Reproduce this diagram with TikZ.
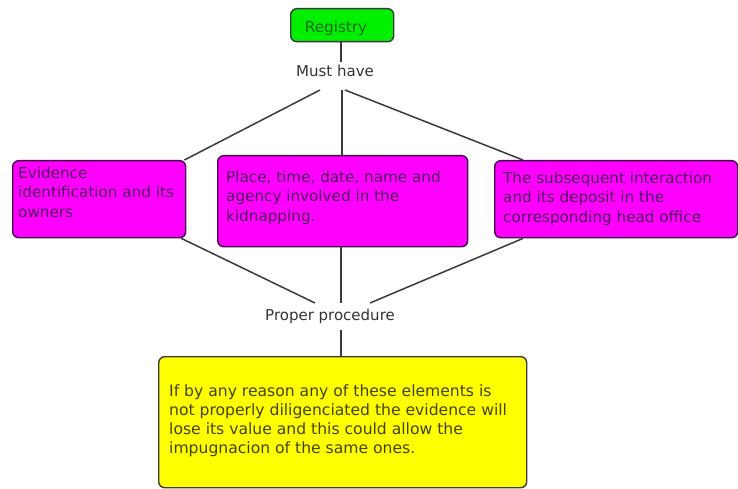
\documentclass[tikz,border=0pt]{standalone}
\usepackage{fontspec}
\setmainfont{DejaVu Sans}
\usetikzlibrary{calc}
\definecolor{linegray}{HTML}{3A3A3A}
\definecolor{boxgreen}{HTML}{00F000}
\definecolor{boxmagenta}{HTML}{FF00FF}
\definecolor{boxyellow}{HTML}{FFFF00}
\definecolor{magtextcol}{HTML}{4E0E5A}
\definecolor{yeltextcol}{HTML}{42420C}
\definecolor{regtextcol}{HTML}{1A661A}
\definecolor{labelcol}{HTML}{333333}
\tikzset{
  box/.style={draw=linegray, line width=1.4pt, rounded corners=6pt, anchor=north west, inner sep=0pt},
  greenbox/.style={box, fill=boxgreen},
  magbox/.style={box, fill=boxmagenta, draw=magtextcol!80!black},
  yelbox/.style={box, fill=boxyellow},
  bodytext/.style={anchor=north west, inner sep=0pt, align=left, font=\fontsize{15.2}{19.7}\selectfont},
  magtext/.style={bodytext, text=magtextcol},
  yeltext/.style={bodytext, text=yeltextcol, font=\fontsize{15.6}{19.1}\selectfont},
  lbl/.style={anchor=base, inner sep=0pt, text=labelcol, font=\fontsize{15}{17}\selectfont},
  conn/.style={draw=linegray, line width=1.5pt}
}
\begin{document}
\begin{tikzpicture}[x=1pt, y=-1pt]
\useasboundingbox (0,0) rectangle (738,489);

% boxes
\node[greenbox, minimum width=103pt, minimum height=33pt] (reg) at (290,8) {};
\node[anchor=base, inner sep=0pt, text=regtextcol, font=\fontsize{15.2}{17}\selectfont] (regt) at (336,33) {Registry};

\node[magbox, minimum width=173pt, minimum height=77pt] (lbox) at (12,160) {};
\node[magbox, minimum width=250pt, minimum height=91pt] (mbox) at (217,155) {};
\node[magbox, minimum width=243pt, minimum height=77pt] (rbox) at (494,160) {};
\node[yelbox, minimum width=368pt, minimum height=131pt] (ybox) at (158,356) {};

% box texts
\node[magtext] (lt) at (18,166.5) {Evidence\\identification and its\\owners};
\node[magtext] (mt) at (226,170.5) {Place, time, date, name and\\agency involved in the\\kidnapping.};
\node[magtext] (rt) at (503,171.5) {The subsequent interaction\\and its deposit in the\\corresponding head office};
\node[yeltext] (yt) at (169,384.5) {If by any reason any of these elements is\\not properly diligenciated the evidence will\\lose its value and this could allow the\\impugnacion of the same ones.};

% labels
\node[lbl] (must) at (335,77) {Must have};
\node[lbl] (proper) at (330,320) {Proper procedure};

% connector ends near the labels
\coordinate (mustL) at (320,90);
\coordinate (mustC) at (342,90);
\coordinate (mustR) at (345,90);
\coordinate (mustT) at (341,62);
\coordinate (propL) at (315,303);
\coordinate (propC) at (341,303);
\coordinate (propR) at (370,303);
\coordinate (propB) at (341,330);

% connectors
\draw[conn] (reg.south -| mustT) -- (mustT);
\draw[conn] (mustL) -- ($(lbox.north east)+(-2,0)$);
\draw[conn] (mustC) -- (mustC |- mbox.north);
\draw[conn] (mustR) -- ($(rbox.north west)+(29,0)$);
\draw[conn] ($(lbox.south east)+(-5,0)$) -- (propL);
\draw[conn] (propC |- mbox.south) -- (propC);
\draw[conn] ($(rbox.south west)+(29,0)$) -- (propR);
\draw[conn] (propB) -- (propB |- ybox.north);
\end{tikzpicture}
\end{document}
